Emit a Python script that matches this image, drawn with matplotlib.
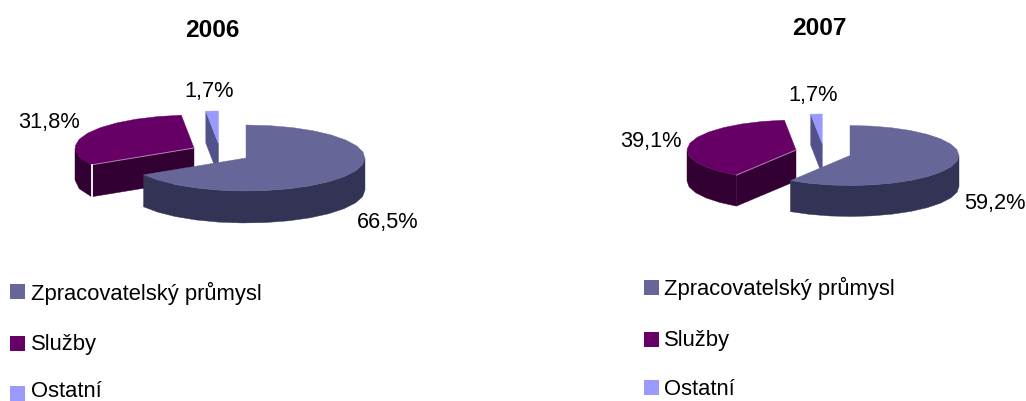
import numpy as np
import matplotlib
matplotlib.use('Agg')
import matplotlib.pyplot as plt
from matplotlib.patches import Polygon, Rectangle

plt.rcParams['font.family'] = ['Liberation Sans', 'DejaVu Sans']

categories = ['Zpracovatelský průmysl', 'Služby', 'Ostatní']
years = ['2006', '2007']
values_2006 = [66.5, 31.8, 1.7]
values_2007 = [59.2, 39.1, 1.7]
labels_2006 = ['66,5%', '31,8%', '1,7%']
labels_2007 = ['59,2%', '39,1%', '1,7%']

top_colors = ['#666699', '#660066', '#9999ff']
side_colors = ['#333355', '#330033', '#4d4d80']
face_colors = ['#333355', '#330033', '#52528a']

fig = plt.figure(figsize=(10.26, 4.02), dpi=100)
ax = fig.add_axes([0, 0, 1, 1])
ax.set_xlim(0, 1026)
ax.set_ylim(402, 0)
ax.axis('off')


def pt(cx, cy, rx, ry, a):
    # a is degrees clockwise from 12 o'clock
    r = np.radians(a)
    return cx + rx * np.sin(r), cy - ry * np.cos(r)


def arc(cx, cy, rx, ry, a0, a1):
    n = max(2, int(abs(a1 - a0) / 11) + 1)
    aa = np.linspace(a0, a1, n)
    return [pt(cx, cy, rx, ry, a) for a in aa]


def draw_pie(values, labels, cx, cy, rx, ry, depth, offsets, label_pos, seam=False):
    edges = np.cumsum([0] + list(values)) / sum(values) * 360
    # main wedge goes on top of the two pulled out ones
    for i in [2, 1, 0]:
        a0, a1 = edges[i], edges[i + 1]
        x0 = cx + offsets[i][0]
        y0 = cy + offsets[i][1]
        # radial face at the start angle
        if a0 > 180:
            p = pt(x0, y0, rx, ry, a0)
            ax.add_patch(Polygon([(x0, y0), p, (p[0], p[1] + depth), (x0, y0 + depth)],
                                 fc=face_colors[i], ec=face_colors[i], lw=0.3))
        # outer wall, only the front half shows
        s0, s1 = max(a0, 90), min(a1, 270)
        if s1 > s0:
            upper = arc(x0, y0, rx, ry, s0, s1)
            lower = [(x, y + depth) for x, y in upper][::-1]
            ax.add_patch(Polygon(upper + lower, fc=side_colors[i], ec=side_colors[i], lw=0.3))
        # top
        top = [(x0, y0)] + arc(x0, y0, rx, ry, a0, a1)
        ax.add_patch(Polygon(top, fc=top_colors[i], ec=top_colors[i], lw=0.3))
        if i == 1:
            p = pt(x0, y0, rx, ry, a0)
            ax.plot([x0, p[0]], [y0, p[1]], color='#b080b0', lw=0.7)
            if seam:
                ax.plot([p[0], p[0]], [p[1], p[1] + depth], color='white', lw=1.3)
    for txt, (x, y) in zip(labels, label_pos):
        ax.text(x, y, txt, fontsize=15.7, ha='center', va='baseline', color='black')


def draw_legend(x, xt, ys, bases):
    for name, col, y, b in zip(categories, top_colors, ys, bases):
        ax.add_patch(Rectangle((x, y - 7.5), 15, 15, fc=col, ec='none'))
        ax.text(xt, b, name, fontsize=15.8, ha='left', va='baseline', color='black')


draw_pie(values_2006, labels_2006, 246, 159, 119, 33, 32,
         [(0, 0), (-52, -10), (-27.5, -14)],
         [(388, 228), (49.5, 128), (209.5, 96.7)], seam=True)
draw_pie(values_2007, labels_2007, 850, 156.5, 109, 30, 31,
         [(0, 0), (-54, -5.5), (-27.7, -11.5)],
         [(994.5, 209), (651, 147.3), (813, 100.7)])

ax.text(212.5, 37, years[0], fontsize=17.6, fontweight='bold', ha='center', va='baseline')
ax.text(819.5, 35, years[1], fontsize=17.6, fontweight='bold', ha='center', va='baseline')

draw_legend(10, 31, [292.5, 344.5, 394.5], [300, 350, 397.5])
draw_legend(644, 664, [288.7, 340, 388.5], [295, 346, 395])

fig.savefig('out.png', dpi=100)
plt.close()
